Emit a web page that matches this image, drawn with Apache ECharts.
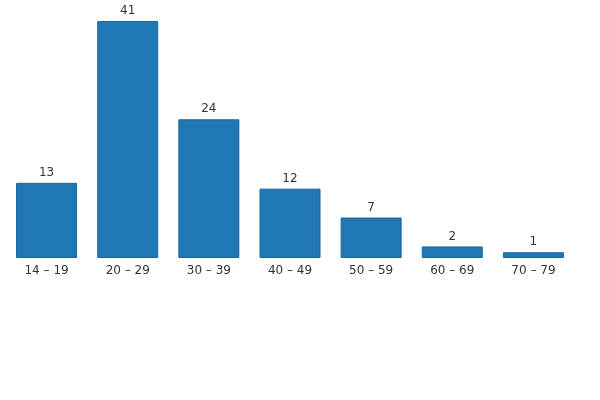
<!DOCTYPE html>
<html>
<head>
<meta charset="utf-8">
<script src="https://cdn.jsdelivr.net/npm/echarts@6/dist/echarts.min.js"></script>
<style>
  html, body { margin: 0; padding: 0; background: #fff; }
  #chart { width: 600px; height: 400px; }
</style>
</head>
<body>
<div id="chart"></div>
<script>
// age groups and counts
const categories = ['14 – 19', '20 – 29', '30 – 39', '40 – 49', '50 – 59', '60 – 69', '70 – 79']
const counts = [13, 41, 24, 12, 7, 2, 1]

const chart = echarts.init(document.getElementById('chart'), null, { renderer: 'canvas' })

chart.setOption({
  animation: false,
  grid: { left: 6, right: 26, top: 21, bottom: 142, containLabel: false },
  xAxis: {
    type: 'category',
    data: categories,
    axisLine: { show: false },
    axisTick: { show: false },
    axisLabel: {
      color: '#333',
      fontFamily: 'DejaVu Sans',
      fontSize: 12,
      margin: 7
    }
  },
  yAxis: {
    type: 'value',
    min: 0,
    max: 41,
    show: false
  },
  series: [{
    type: 'bar',
    data: counts,
    barWidth: 61,
    itemStyle: {
      color: '#1f77b4',
      borderColor: '#1a66a0',
      borderWidth: 1
    },
    label: {
      show: true,
      position: 'top',
      distance: 4,
      color: '#333',
      fontFamily: 'DejaVu Sans',
      fontSize: 12
    }
  }]
})
</script>
</body>
</html>
